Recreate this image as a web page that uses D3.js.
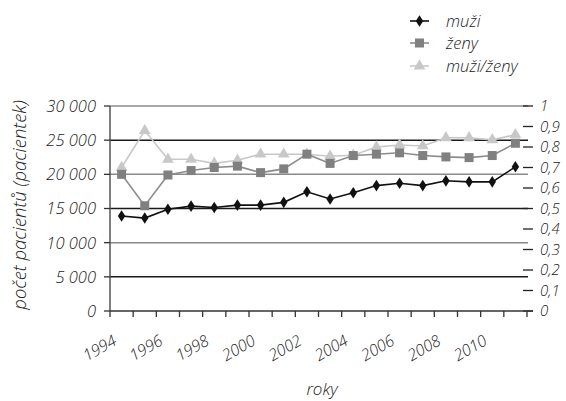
<!DOCTYPE html>
<html><head><meta charset="utf-8">
<script src="https://cdn.jsdelivr.net/npm/d3@7"></script>
<style>body{margin:0;background:#fff}svg{display:block}text{font-family:"Open Sans",sans-serif;font-style:italic;font-weight:300;fill:#222}</style>
</head><body>
<svg id="c" width="566" height="401"></svg>
<script>
const years = [1994,1995,1996,1997,1998,1999,2000,2001,2002,2003,2004,2005,2006,2007,2008,2009,2010,2011];
const muzi = [13900,13600,14900,15350,15150,15500,15500,15900,17450,16400,17300,18350,18700,18350,19050,18900,18900,21100];
const zeny = [20000,15400,19900,20550,21000,21200,20250,20800,22950,21600,22750,22950,23150,22750,22550,22450,22750,24550];
const pomer = [0.70,0.88,0.74,0.74,0.72,0.735,0.765,0.765,0.765,0.755,0.76,0.80,0.81,0.805,0.845,0.845,0.835,0.86];
const leftTicks = [0,5000,10000,15000,20000,25000,30000];
const rightTicks = [0,0.1,0.2,0.3,0.4,0.5,0.6,0.7,0.8,0.9,1];
const xLabels = [1994,1996,1998,2000,2002,2004,2006,2008,2010];

const svg = d3.select("#c");
const L=110, R=527, T=106, B=311;
const x = d3.scaleBand().domain(years).range([L,R]);
const yL = d3.scaleLinear().domain([0,30000]).range([B,T]);
const yR = d3.scaleLinear().domain([0,1]).range([B,T]);
const fmt = v => d3.format(",")(v).replace(/,/g," ");

// gridlines
leftTicks.forEach((v,i)=>{
  if(v===0) return;
  svg.append("line").attr("x1",L).attr("x2",R+1).attr("y1",yL(v)).attr("y2",yL(v))
    .attr("stroke", (v/5000)%2===0 ? "#8a8a8a" : "#1a1a1a").attr("stroke-width",1.5);
});
// left axis
svg.append("line").attr("x1",L).attr("x2",L).attr("y1",T).attr("y2",B).attr("stroke","#555").attr("stroke-width",1.5);
leftTicks.forEach(v=>{
  svg.append("line").attr("x1",L-6).attr("x2",L).attr("y1",yL(v)).attr("y2",yL(v)).attr("stroke","#333").attr("stroke-width",1.3);
  svg.append("text").attr("x",96).attr("y",yL(v)).attr("dy","0.36em").attr("text-anchor","end")
    .attr("font-size",16.5).text(fmt(v));
});
// right axis ticks
rightTicks.forEach(v=>{
  svg.append("line").attr("x1",R-4).attr("x2",R+6).attr("y1",yR(v)).attr("y2",yR(v)).attr("stroke","#222").attr("stroke-width",1.3);
  svg.append("text").attr("x",540).attr("y",yR(v)).attr("dy","0.36em").attr("text-anchor","start")
    .attr("font-size",15).text(String(v).replace(".",","));
});
// x axis
svg.append("line").attr("x1",L).attr("x2",R+6).attr("y1",B).attr("y2",B).attr("stroke","#333").attr("stroke-width",1.5);
years.concat([null]).forEach((yv,i)=>{
  const px = L + i*x.bandwidth();
  svg.append("line").attr("x1",px).attr("x2",px).attr("y1",B).attr("y2",B+6).attr("stroke","#333").attr("stroke-width",1.3);
});
xLabels.forEach(yv=>{
  const cx = x(yv)+x.bandwidth()/2;
  svg.append("text").attr("transform",`translate(${cx-4},${B+33}) rotate(-30)`)
    .attr("text-anchor","end").attr("font-size",16).text(yv);
});
// titles
svg.append("text").attr("transform","translate(20,205) rotate(-90)").attr("text-anchor","middle").attr("dy","0.35em")
  .attr("font-size",18.5).text("počet pacientů (pacientek)");
svg.append("text").attr("x",322).attr("y",389).attr("text-anchor","middle").attr("dy","0.35em").attr("font-size",17).text("roky");

const cxF = d => x(d)+x.bandwidth()/2;
function drawSeries(vals, yS, color, lineColor, marker){
  const line = d3.line().x((d,i)=>cxF(years[i])).y(d=>yS(d));
  svg.append("path").attr("d",line(vals)).attr("fill","none").attr("stroke",lineColor).attr("stroke-width",1.6);
  vals.forEach((v,i)=>drawMarker(cxF(years[i]), yS(v), color, marker));
}
function drawMarker(px,py,color,marker){
  if(marker==="diamond"){
    svg.append("path").attr("d",d3.symbol(d3.symbolDiamond,48)()).attr("transform",`translate(${px},${py}) scale(1,0.9)`).attr("fill",color);
  } else if(marker==="square"){
    svg.append("rect").attr("x",px-4.5).attr("y",py-4.5).attr("width",9).attr("height",9).attr("fill",color);
  } else {
    svg.append("path").attr("d",d3.symbol(d3.symbolTriangle,60)()).attr("transform",`translate(${px},${py})`).attr("fill",color);
  }
}
drawSeries(pomer, yR, "#c8c8c8", "#c8c8c8", "triangle");
drawSeries(zeny, yL, "#808080", "#8c8c8c", "square");
drawSeries(muzi, yL, "#111", "#111", "diamond");

// legend
const leg = [["muži","#111","#111","diamond",21],["ženy","#808080","#8c8c8c","square",43],["muži/ženy","#c8c8c8","#c8c8c8","triangle",66]];
leg.forEach(([t,c,lc,m,ly])=>{
  svg.append("line").attr("x1",410).attr("x2",429).attr("y1",ly).attr("y2",ly).attr("stroke",lc).attr("stroke-width",1.6);
  drawMarker(419.5, ly, c, m);
  svg.append("text").attr("x",446).attr("y",ly).attr("dy","0.35em").attr("font-size",16.5).text(t);
});
</script>
</body></html>
